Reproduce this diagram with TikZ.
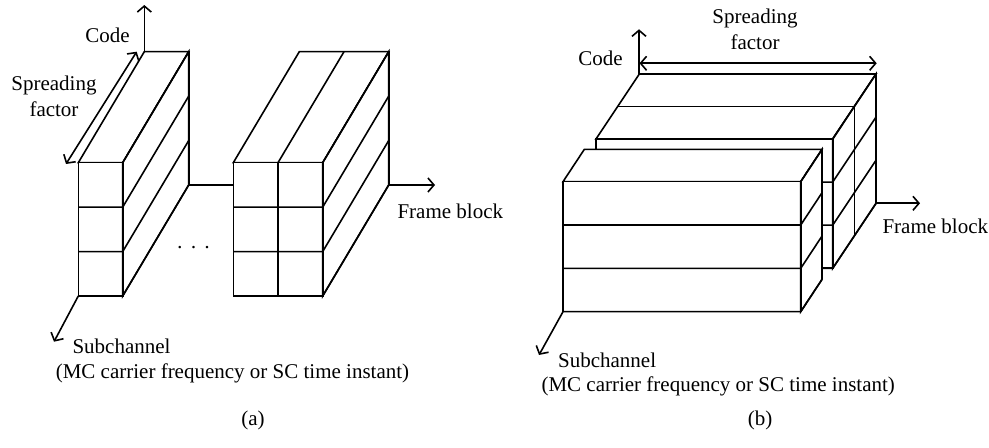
\documentclass[tikz,border=0pt]{standalone}
\usepackage{fontspec}
\setmainfont{Liberation Serif}
\usepackage{tikz}
\usetikzlibrary{arrows.meta}

\tikzset{
  face/.style={fill=white},
  axis/.style={->},
  lbl/.style={inner sep=0pt}
}
% #1,#2 front top-left corner, #3 width, #4 height, #5,#6 depth,
% #7 rows, #8 columns, #9 slices in depth
\newcommand{\cuboid}[9]{%
  \filldraw[face] (#1,#2) -- ++(#5,#6) -- ++(#3,0) -- (#1+#3,#2) -- cycle;
  \filldraw[face] (#1+#3,#2) -- ++(#5,#6) -- ++(0,#4) -- (#1+#3,#2+#4) -- cycle;
  \filldraw[face] (#1,#2) rectangle ++(#3,#4);
  \foreach \r [evaluate=\r as \ry using #2+\r*#4/#7] in {1,...,#7}
    \draw (#1,\ry) -- ++(#3,0) -- ++(#5,#6);
  \foreach \c [evaluate=\c as \cx using #1+\c*#3/#8] in {1,...,#8}
    \draw (\cx,#2+#4) -- (\cx,#2) -- ++(#5,#6);
  \foreach \s in {1,...,#9}
    \draw (#1+\s*#5/#9,#2+\s*#6/#9) -- ++(#3,0) -- ++(0,#4);
}

\begin{document}
\begin{tikzpicture}[x=0.5pt,y=-0.5pt,line width=0.8pt,
    >={Straight Barb[length=3pt,width=7pt]},
    font=\fontsize{10.5}{13}\selectfont]
  \useasboundingbox (0,0) rectangle (989,448);

  % (a): one code per block, spreading along the depth
  \coordinate (codeA) at (144.3,51.7);
  \coordinate (codeA-end) at (144.3,5);
  \coordinate (frameA) at (144.3,185);
  \coordinate (frameA-end) at (435,185);
  \coordinate (subA) at (78.3,296);
  \coordinate (subA-end) at (54,341.7);
  \coordinate (sfA-lo) at (66,164);
  \coordinate (sfA-hi) at (136.7,51.7);

  \draw[axis] (frameA) -- (frameA-end);
  \draw[axis] (codeA) -- (codeA-end);
  \draw[axis] (subA) -- (subA-end);
  \draw[<->] (sfA-lo) -- (sfA-hi);

  \cuboid{78.3}{162.7}{44.4}{133.3}{66}{-111}{3}{1}{1}
  \cuboid{233.3}{162.7}{89.4}{133.3}{66}{-111}{3}{2}{1}

  \node[lbl] (codeA-txt) at (107.5,35) {Code};
  \node[lbl,align=center] (sfA-txt) at (54,96.5) {Spreading\\factor};
  \node[lbl,anchor=west] (frameA-txt) at (396.7,211.7) {Frame block};
  \node[lbl] (dotsA) at (193.5,250) {·\hspace{3.3pt}·\hspace{3.3pt}·};
  \node[lbl,anchor=west] (subA-txt) at (71.7,346) {Subchannel};
  \node[lbl,anchor=west] (subA-note) at (55,373) {(MC carrier frequency or SC time instant)};
  \node[lbl] (capA) at (253,420) {(a)};

  % (b): spreading along the bar, frame blocks in depth
  \coordinate (codeB) at (639,74);
  \coordinate (codeB-end) at (639,29.3);
  \coordinate (frameB) at (876,203.3);
  \coordinate (frameB-end) at (920,203.3);
  \coordinate (subB) at (563,311.7);
  \coordinate (subB-end) at (539,355);
  \coordinate (sfB-lo) at (639.5,63.3);
  \coordinate (sfB-hi) at (876.7,63.3);

  \draw[axis] (frameB) -- (frameB-end);
  \draw[axis] (codeB) -- (codeB-end);
  \draw[axis] (subB) -- (subB-end);
  \draw[<->] (sfB-lo) -- (sfB-hi);

  \cuboid{596}{139}{236.7}{129.3}{43.3}{-65}{3}{1}{2}
  \cuboid{563}{181.7}{237.7}{130}{21.3}{-32.3}{3}{1}{1}

  \node[lbl] (codeB-txt) at (600.5,58) {Code};
  \node[lbl,align=center] (sfB-txt) at (755,29) {Spreading\\factor};
  \node[lbl,anchor=west] (frameB-txt) at (881.7,226.7) {Frame block};
  \node[lbl,anchor=west] (subB-txt) at (557.3,360) {Subchannel};
  \node[lbl,anchor=west] (subB-note) at (540.7,386) {(MC carrier frequency or SC time instant)};
  \node[lbl] (capB) at (760,420) {(b)};
\end{tikzpicture}
\end{document}
